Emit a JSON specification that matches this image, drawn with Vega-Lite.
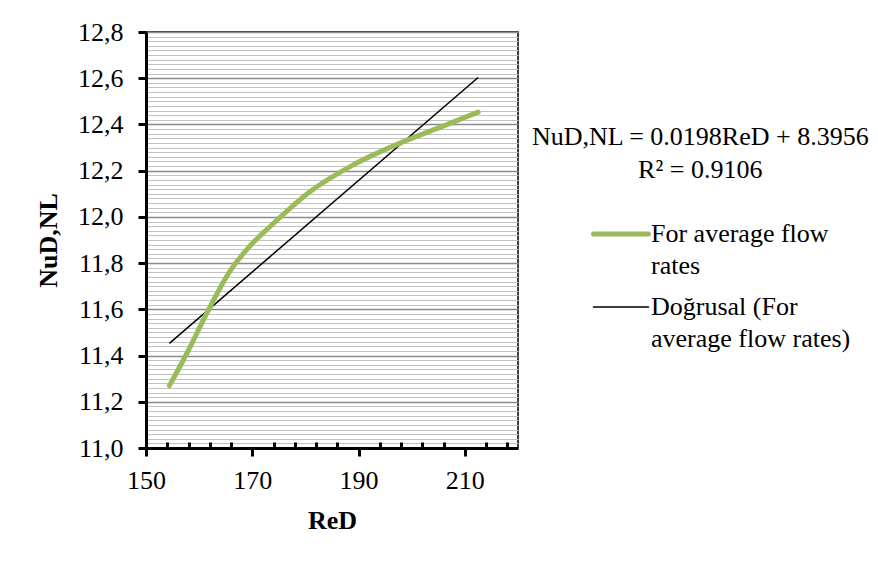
{
  "$schema": "https://vega.github.io/schema/vega-lite/v6.json",
  "width": 372,
  "height": 416,
  "autosize": {"type": "none"},
  "padding": {"left": 146, "top": 32, "right": 360, "bottom": 119},
  "background": "white",
  "config": {
    "font": "Liberation Serif",
    "view": {"stroke": "black", "strokeWidth": 1.5},
    "legend": {"labelFont": "Liberation Serif", "titleFont": "Liberation Serif"}
  },
  "resolve": {"axis": {"x": "independent", "y": "independent"}},
  "datasets": {
    "curve": [
      {"ReD": 154.4, "NuD": 11.27, "series": "For average flow rates"},
      {"ReD": 157.7, "NuD": 11.41, "series": "For average flow rates"},
      {"ReD": 161.7, "NuD": 11.595, "series": "For average flow rates"},
      {"ReD": 165.8, "NuD": 11.765, "series": "For average flow rates"},
      {"ReD": 169.6, "NuD": 11.875, "series": "For average flow rates"},
      {"ReD": 173.2, "NuD": 11.955, "series": "For average flow rates"},
      {"ReD": 180.9, "NuD": 12.11, "series": "For average flow rates"},
      {"ReD": 189.0, "NuD": 12.225, "series": "For average flow rates"},
      {"ReD": 198.4, "NuD": 12.325, "series": "For average flow rates"},
      {"ReD": 205.9, "NuD": 12.393, "series": "For average flow rates"},
      {"ReD": 212.5, "NuD": 12.453, "series": "For average flow rates"}
    ],
    "trend": [
      {"ReD": 154.4, "NuD": 11.453, "series": "Doğrusal (For average flow rates)"},
      {"ReD": 212.5, "NuD": 12.603, "series": "Doğrusal (For average flow rates)"}
    ],
    "eq": [
      {"text": "NuD,NL = 0.0198ReD + 8.3956"},
      {"text": "R² = 0.9106"}
    ]
  },
  "layer": [
    {
      "data": {"name": "trend"},
      "mark": {"type": "line", "color": "black", "strokeWidth": 1.5},
      "encoding": {
        "x": {
          "field": "ReD",
          "type": "quantitative",
          "scale": {"domain": [150, 220], "nice": false, "zero": false},
          "axis": {
            "title": "ReD",
            "titleFont": "Liberation Serif",
            "titleFontSize": 26,
            "titleFontWeight": "bold",
            "titleColor": "black",
            "titlePadding": 14,
            "values": [150, 154, 158, 162, 166, 170, 174, 178, 182, 186, 190, 194, 198, 202, 206, 210, 214, 218],
            "labelExpr": "(datum.value - 150) % 20 == 0 ? datum.label : ''",
            "labelFont": "Liberation Serif",
            "labelFontSize": 26,
            "labelColor": "black",
            "labelPadding": 11,
            "labelFlush": false,
            "labelOverlap": false,
            "grid": false,
            "domainColor": "black",
            "domainWidth": 3,
            "tickColor": "black",
            "tickWidth": 3,
            "tickSize": {"condition": {"test": "(datum.value - 150) % 20 == 0", "value": 8}, "value": -6}
          }
        },
        "y": {
          "field": "NuD",
          "type": "quantitative",
          "scale": {"domain": [11.0, 12.8], "nice": false, "zero": false},
          "axis": {
            "title": "NuD,NL",
            "titleFont": "Liberation Serif",
            "titleFontSize": 26,
            "titleFontWeight": "bold",
            "titleColor": "black",
            "titlePadding": 16,
            "values": [11.0, 11.02, 11.04, 11.06, 11.08, 11.1, 11.12, 11.14, 11.16, 11.18, 11.2, 11.22, 11.24, 11.26, 11.28, 11.3, 11.32, 11.34, 11.36, 11.38, 11.4, 11.42, 11.44, 11.46, 11.48, 11.5, 11.52, 11.54, 11.56, 11.58, 11.6, 11.62, 11.64, 11.66, 11.68, 11.7, 11.72, 11.74, 11.76, 11.78, 11.8, 11.82, 11.84, 11.86, 11.88, 11.9, 11.92, 11.94, 11.96, 11.98, 12.0, 12.02, 12.04, 12.06, 12.08, 12.1, 12.12, 12.14, 12.16, 12.18, 12.2, 12.22, 12.24, 12.26, 12.28, 12.3, 12.32, 12.34, 12.36, 12.38, 12.4, 12.42, 12.44, 12.46, 12.48, 12.5, 12.52, 12.54, 12.56, 12.58, 12.6, 12.62, 12.64, 12.66, 12.68, 12.7, 12.72, 12.74, 12.76, 12.78, 12.8],
            "labelExpr": "abs(datum.value * 5 - round(datum.value * 5)) < 0.01 ? replace(format(datum.value, '.1f'), '.', ',') : ''",
            "labelFont": "Liberation Serif",
            "labelFontSize": 26,
            "labelColor": "black",
            "labelPadding": 15,
            "labelFlush": false,
            "labelOverlap": false,
            "domainColor": "black",
            "domainWidth": 3,
            "tickColor": "black",
            "tickWidth": 3,
            "tickSize": {"condition": {"test": "abs(datum.value * 5 - round(datum.value * 5)) < 0.01", "value": 8}, "value": 0},
            "grid": true,
            "gridColor": {"condition": {"test": "abs(datum.value * 5 - round(datum.value * 5)) < 0.01", "value": "#8a8a8a"}, "value": "#c2c2c2"},
            "gridWidth": {"condition": {"test": "abs(datum.value * 5 - round(datum.value * 5)) < 0.01", "value": 1.5}, "value": 1.2}
          }
        },
        "color": {
          "field": "series",
          "type": "nominal",
          "scale": {"domain": ["For average flow rates", "Doğrusal (For average flow rates)"], "range": ["#9BBB59", "black"]},
          "legend": {
            "title": null,
            "orient": "none",
            "legendX": 462,
            "legendY": 189,
            "symbolType": "stroke",
            "symbolSize": 3025,
            "symbolStrokeWidth": 2,
            "labelFont": "Liberation Serif",
            "labelFontSize": 26,
            "labelColor": "black",
            "labelLimit": 400,
            "labelOffset": 17,
            "labelBaseline": "middle",
            "labelExpr": "datum.value == 'For average flow rates' ? ['For average flow', 'rates'] : ['Doğrusal (For', 'average flow rates)']",
            "rowPadding": 15,
            "encode": {
              "symbols": {"update": {"strokeWidth": {"signal": "datum.value == 'For average flow rates' ? 5 : 1.5"}, "strokeCap": {"value": "round"}}},
              "labels": {"update": {"font": {"value": "Liberation Serif"}, "lineHeight": {"value": 32}}}
            }
          }
        }
      }
    },
    {
      "data": {"name": "curve"},
      "mark": {"type": "line", "strokeWidth": 5, "strokeCap": "round", "strokeJoin": "round", "interpolate": "monotone"},
      "encoding": {
        "x": {"field": "ReD", "type": "quantitative", "axis": null},
        "y": {"field": "NuD", "type": "quantitative", "axis": null},
        "color": {"field": "series", "type": "nominal"}
      }
    },
    {
      "data": {"name": "eq"},
      "transform": [{"filter": "datum.text == 'NuD,NL = 0.0198ReD + 8.3956'"}],
      "mark": {"type": "text", "font": "Liberation Serif", "fontSize": 26, "align": "center", "baseline": "middle", "color": "black", "clip": false},
      "encoding": {
        "x": {"datum": 254.3, "type": "quantitative", "axis": null},
        "y": {"datum": 12.345, "type": "quantitative", "axis": null},
        "text": {"field": "text", "type": "nominal"}
      }
    },
    {
      "data": {"name": "eq"},
      "transform": [{"filter": "datum.text == 'R² = 0.9106'"}],
      "mark": {"type": "text", "font": "Liberation Serif", "fontSize": 26, "align": "center", "baseline": "middle", "color": "black", "clip": false},
      "encoding": {
        "x": {"datum": 254.3, "type": "quantitative", "axis": null},
        "y": {"datum": 12.203, "type": "quantitative", "axis": null},
        "text": {"field": "text", "type": "nominal"}
      }
    }
  ]
}
